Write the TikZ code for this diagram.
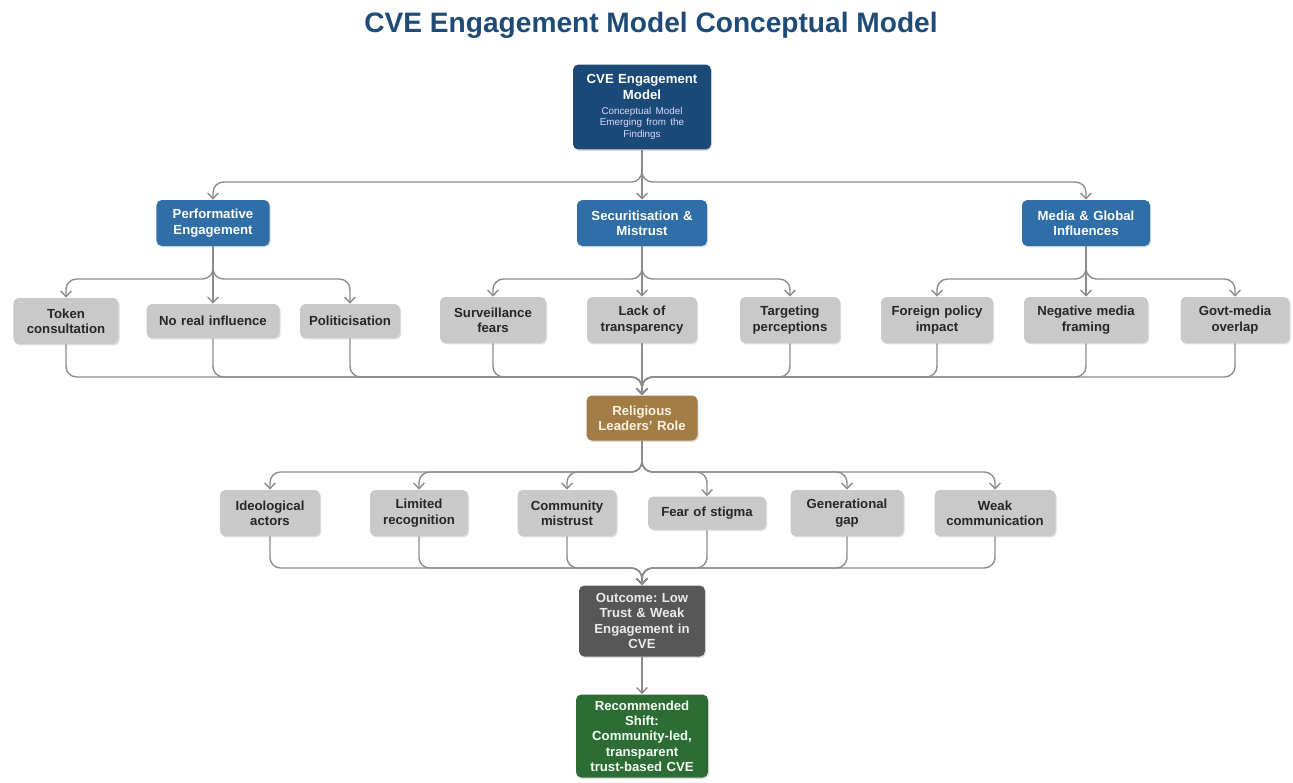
\documentclass[tikz,border=0pt]{standalone}
\usepackage{fontspec}
\setmainfont{Liberation Sans}
\usetikzlibrary{arrows.meta,shadows}
\frenchspacing

\definecolor{titleblue}{HTML}{1F4B78}
\definecolor{coreblue}{HTML}{1B4A78}
\definecolor{themeblue}{HTML}{2F6EA6}
\definecolor{factorgray}{HTML}{C9C9C9}
\definecolor{rolebrown}{HTML}{A27E46}
\definecolor{resultgray}{HTML}{575757}
\definecolor{reformgreen}{HTML}{2E6C36}
\definecolor{linegray}{HTML}{8C8C8C}

\tikzset{
  box/.style={rounded corners=3pt, align=center, inner xsep=2pt, inner ysep=2pt,
    font=\fontsize{7.5}{8.7}\selectfont\bfseries,
    drop shadow={opacity=0.25, shadow xshift=0.6pt, shadow yshift=-0.8pt}},
  core/.style={box, fill=coreblue, text=white, text width=2.62cm, minimum height=1.7cm},
  theme/.style={box, fill=themeblue, text=white, text width=#1, minimum height=0.92cm},
  factor/.style={box, fill=factorgray, text=black!85, text width=#1, minimum height=0.92cm},
  role/.style={box, fill=rolebrown, text=orange!10, text width=2.08cm, minimum height=0.9cm},
  result/.style={box, fill=resultgray, text=white!92!black, text width=2.38cm, minimum height=1.42cm},
  reform/.style={box, fill=reformgreen, text=green!5, text width=2.5cm, minimum height=1.66cm},
  flow/.style={draw=linegray, line width=0.8pt, rounded corners=6pt,
    -{Straight Barb[length=3.2pt, width=6pt]}}
}

\begin{document}
\begin{tikzpicture}[x=0.02cm, y=-0.02cm]
    \useasboundingbox (0,0) rectangle (1293,782);

    % Title
    \node[font=\fontsize{16}{19}\selectfont\bfseries, text=titleblue] (title) at (651,25)
        {CVE Engagement Model Conceptual Model};

    % Core model
    \node[core] (core) at (642,107)
        {CVE Engagement\\Model\par\vspace{2pt}
         {\fontsize{5.6}{6.6}\selectfont\mdseries\color{blue!15!white}Conceptual Model\\Emerging from the\\Findings\par}};

    % Themes
    \node[theme=2.12cm] (perf)  at (213,223)  {Performative\\Engagement};
    \node[theme=2.46cm] (sec)   at (642,223)  {Securitisation \&\\Mistrust};
    \node[theme=2.42cm] (media) at (1086,223) {Media \& Global\\Influences};

    % Factors under each theme
    \node[factor=1.96cm] (token)    at (66,321)   {Token\\consultation};
    \node[factor=2.52cm, minimum height=0.68cm] (noreal) at (213,321) {No real influence};
    \node[factor=1.86cm, minimum height=0.68cm] (polit)  at (350,321) {Politicisation};
    \node[factor=1.98cm] (surv)     at (493,320)  {Surveillance\\fears};
    \node[factor=2.06cm] (lack)     at (642,320)  {Lack of\\transparency};
    \node[factor=1.86cm] (target)   at (790,320)  {Targeting\\perceptions};
    \node[factor=2.10cm] (foreign)  at (937,320)  {Foreign policy\\impact};
    \node[factor=2.34cm] (negative) at (1086,320) {Negative media\\framing};
    \node[factor=2.04cm] (govt)     at (1235,320) {Govt-media\\overlap};

    % Religious leaders
    \node[role] (role) at (642,418) {Religious\\Leaders' Role};

    % Issues around religious leaders
    \node[factor=1.86cm] (ideo)      at (270,513) {Ideological\\actors};
    \node[factor=1.82cm] (limited)   at (419,513) {Limited\\recognition};
    \node[factor=1.84cm] (community) at (567,513) {Community\\mistrust};
    \node[factor=2.22cm, minimum height=0.66cm] (fear) at (707,513) {Fear of stigma};
    \node[factor=2.12cm] (gen)       at (847,513) {Generational\\gap};
    \node[factor=2.28cm] (weak)      at (995,513) {Weak\\communication};

    % Outcome and shift
    \node[result] (result) at (642,621) {Outcome: Low\\Trust \& Weak\\Engagement in\\CVE};
    \node[reform] (reform) at (642,736) {Recommended\\Shift:\\Community-led,\\transparent\\trust-based CVE};

    % Bus lines
    \coordinate (busA) at (0,182);
    \coordinate (busB) at (0,279);
    \coordinate (busC) at (0,377);
    \coordinate (busD) at (0,472);
    \coordinate (busE) at (0,568);

    % Core to themes
    \draw[flow] (core) -- (sec);
    \foreach \t in {perf,media}
        \draw[flow] (core.south) -- (core.south |- busA) -| (\t.north);

    % Themes to factors
    \draw[flow] (perf) -- (noreal);
    \foreach \f in {token,polit}
        \draw[flow] (perf.south) -- (perf.south |- busB) -| (\f.north);
    \draw[flow] (sec) -- (lack);
    \foreach \f in {surv,target}
        \draw[flow] (sec.south) -- (sec.south |- busB) -| (\f.north);
    \draw[flow] (media) -- (negative);
    \foreach \f in {foreign,govt}
        \draw[flow] (media.south) -- (media.south |- busB) -| (\f.north);

    % Factors into religious leaders
    \draw[flow] (lack) -- (role);
    \foreach \f in {token,noreal,polit,surv,target,foreign,negative,govt}
        \draw[flow] (\f.south) |- (role.north |- busC) -- (role.north);

    % Religious leaders to issues
    \foreach \s in {ideo,limited,community,fear,gen,weak}
        \draw[flow] (role.south) -- (role.south |- busD) -| (\s.north);

    % Issues into outcome
    \foreach \s in {ideo,limited,community,fear,gen,weak}
        \draw[flow] (\s.south) |- (result.north |- busE) -- (result.north);

    \draw[flow] (result) -- (reform);
\end{tikzpicture}
\end{document}
